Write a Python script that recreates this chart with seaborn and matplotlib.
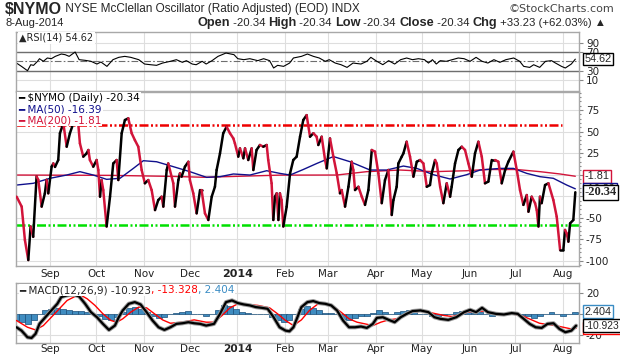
import pandas as pd
import matplotlib
matplotlib.use('Agg')
import matplotlib.pyplot as plt
import matplotlib.transforms as mtrans
from matplotlib.ticker import MultipleLocator
import seaborn as sns

# day offsets are counted from 1 Sep 2013
base = pd.Timestamp('2013-09-01')

nymo_day = [-21.7, -18.4, -16.3, -14.1, -12.6, -10.9, -8.7, -7.6, -5.4, -3.3, -2.2, -1.1, 1.1, 2.2, 3.3, 5.4,
            6.5, 8.7, 10.9, 13.0, 15.2, 17.4, 18.4, 19.5, 21.7, 23.9, 25.0, 26.0, 28.2, 30.4, 31.5, 32.6,
            33.6, 34.7, 36.9, 39.1, 41.2, 43.4, 44.5, 46.7, 48.8, 51.0, 53.2, 55.3, 57.5, 59.7, 61.8, 64.0,
            66.2, 68.4, 70.5, 72.7, 73.8, 76.0, 77.0, 78.1, 80.3, 81.4, 83.6, 84.6, 85.7, 87.9, 90.1, 91.1,
            93.3, 95.5, 97.7, 98.7, 100.9, 103.1, 105.3, 107.4, 108.5, 110.7, 112.8, 115.0, 117.2, 119.4,
            120.4, 122.6, 123.7, 125.9, 127.0, 129.1, 131.3, 132.4, 134.5, 136.7, 138.9, 141.1, 142.1, 144.3,
            145.4, 146.5, 147.6, 148.7, 149.7, 150.8, 151.9, 154.1, 156.3, 158.4, 160.6, 162.8, 164.9, 167.1,
            169.3, 171.5, 173.6, 174.7,
            176.9, 179.1, 180.2, 182.3, 184.5, 186.7, 188.8, 189.9, 192.1, 194.3, 196.4, 197.5, 198.6, 200.8,
            203.0, 205.1, 207.3, 209.5, 211.6, 213.8, 216.0, 218.1, 220.3, 222.5, 223.6, 225.7, 226.8, 229.0,
            230.1, 232.2, 234.4, 236.6, 238.8, 240.9, 243.1, 245.3, 247.4, 248.5, 250.7, 251.8, 254.0, 256.1,
            258.3, 260.5, 261.5, 263.7, 265.9, 268.1, 270.2, 272.4, 274.6, 276.7, 278.9, 281.1, 283.2, 285.4,
            287.6, 289.8, 291.9, 294.1, 296.3, 298.4, 301.7, 303.9, 306.0, 308.2, 310.4, 311.5, 313.6, 315.8,
            316.9, 318.0, 319.0, 320.1, 322.3, 324.5, 327.7, 329.9, 332.1, 334.2, 335.3, 336.4, 337.5, 338.6,
            340.7, 342.0]
nymo_val = [-25.5, -37, -75.7, -98.9, -60, -72, -2, -6, -37, -21.6, -6, -21.6, 9.3, 13, 9, 17,
            48, 59.5, 32.4, 48, 59.5, 61.4, 59.5, 36.3, 20.9, 24.7, 28.6, 17, 9.3, 17, 5.4, -25.5,
            -6.2, -17.8, -60, -25.5, 13, 17, -6.2, 48, 63.3, 65.3, 48, 40, 32.4, 5.4, -10, -6.2,
            -17.8, -41, -29.4, -25.5, -37, 5.4, 13, 5.4, -10, -37, -6.2, 1.5, -2.3, 9.3, 15, -6.2,
            -21.6, -44.8, -17.8, -17.8, -44.8, -52.5, -25.5, -14, 5.4, 24.7, 48, 55.6, 48, 42,
            36.3, 20.9, 30.5, 19, 30.5, 17, 30.5, 5.4, 28.6, 34.4, 32.4, 34.4, 17, -10,
            -52.5, -25.5, -21.6, -52.5, -21.6, -29.4, -60, -37, 1.5, 17, 20.9, 44, 63.3, 69,
            44, 48, 44, 34.4,
            44, 17, 7.3, 42, 20.9, 1.5, -21.6, -17.8, -37, -14, 15, 5.4, -17.8, -14,
            -25.5, -35, -17.8, 28.6, 26.7, 1.5, -33, -6.2, 5.4, -46.7, -29.4, -14, 13, 20.9,
            24.7, 38.2, 20.9, -2.3, 15, 17, 13, -14, -12, 1.5, 17, 13, -14, -33,
            -10, -25.5, -14, 13, 28.6, 32.4, 28.6, 13, -2.3, 24.7, 38.2, 20.9, -10, -8,
            17, 17, 15, -10, 5.4, 15, 26.7, 5.4, -17.8, -35, -23.6, -42.9, -25.5, -33,
            -41, -60, -25.5, -33, -12, -10, -29.4, -48.7, -87.3, -87.3, -64, -68, -77.6, -56.4,
            -52.5, -20.34]

ma50_day = [-21.7, -10.9, 0, 10.9, 19.5, 28.2, 36.9, 45.6, 54.3, 60.8, 69.4, 80.3, 91.1, 102.0, 110.7,
            119.4, 130.2, 141.1, 149.7, 156.3, 164.9, 173.7, 184.5, 195.4, 208.4, 219.2, 230.1, 238.8,
            249.6, 260.5, 271.3, 280.0, 293.0, 301.7, 310.4, 319.0, 327.7, 336.4, 342.0]
ma50_val = [-12, -10, -4.2, -0.4, 3.5, -0.4, -5.4, -4.2, 7.3, 16.2, 15, 9.3, 3.5, -3.1, -2.3,
            0.8, -0.4, 4.6, 1.5, -0.4, 6, 13, 21, 15, 5.4, 5.4, 10, 7.3,
            0, -5, 0, 5.4, 7.3, 7.3, 1.5, -2.3, -4.2, -12, -16.39]

ma200_day = [-21.7, 40, 80, 100, 120, 150, 186.7, 206.2, 227.9, 249.6, 271.3, 284.3, 303.9, 319, 332.1, 342]
ma200_val = [-0.4, -0.8, -2, -3, -2, -0.5, -0.4, 3.5, 5.4, 3.5, 4.6, 6, 6, 3.5, 0.8, -1.81]

rsi_day = [-21.8, -18.5, -14.6, -12.5, -10.7, -8.1, -6.8, -4.3, -1.7, 0.9,
           3.5, 7.4, 9.9, 12.5, 16.4, 19.0, 22.9, 26.7, 30.6, 33.2,
           37.1, 41.0, 44.8, 48.7, 52.6, 57.8, 61.6, 65.5, 69.4, 73.3,
           78.4, 82.3, 86.2, 88.8, 92.6, 95.2, 99.1, 101.7, 105.5, 109.4,
           114.6, 119.8, 122.3, 126.2, 130.1, 135.3, 139.1, 143.0, 145.6, 148.2,
           152.1, 156.0, 158.5, 163.7, 167.6, 171.5, 175.3, 179.2, 181.8, 185.7,
           189.5, 193.4, 197.3, 202.5, 206.3, 208.9, 212.8, 216.7, 220.5, 224.4,
           228.3, 232.2, 236.0, 239.9, 243.8, 246.4, 249.0, 251.5, 254.1, 258.0,
           261.9, 265.8, 269.6, 273.5, 277.4, 281.3, 285.1, 289.0, 292.9, 296.8,
           301.9, 305.8, 308.4, 312.3, 314.9, 318.8, 322.6, 326.5, 329.1, 333.0,
           335.5, 339.4, 342.0]
rsi_val = [46.3, 39.1, 29.9, 42.7, 41.3, 50, 55.6, 50, 57.1, 55.6,
           60.6, 65.6, 64.2, 60.6, 69.9, 53.5, 52.1, 50, 44.2, 48.5,
           39.2, 53.5, 58.5, 60.6, 58.5, 53.5, 44.2, 42.7, 41.4, 46.3,
           50, 53.5, 47.8, 51.4, 44.2, 42.7, 50, 44.2, 51.4, 60.6,
           67.7, 64.2, 55.6, 53.5, 55.6, 51.4, 55.6, 51.4, 35.7, 41.4,
           39.2, 46.3, 57.1, 60.6, 65.6, 60.6, 57.1, 50, 53.5, 46.3,
           42.7, 37, 46.3, 44.2, 50, 58.5, 50, 42.8, 51.4, 44.2,
           53.5, 57.1, 53.5, 55.6, 53.5, 46.3, 53.5, 44.2, 51.4, 50,
           53.5, 57.1, 55.6, 50, 58.5, 50, 46.3, 53.5, 47.8, 53.5,
           57.1, 50, 39.2, 37, 42.7, 37, 50, 51.4, 46.3, 39.2,
           35.7, 44.2, 54.62]

macd_day = [-21.8, -18.5, -14.6, -12.0, -9.4, -6.8, -3.0, 0.9, 4.8, 7.4,
            11.2, 15.1, 19.0, 22.9, 26.7, 30.6, 34.5, 38.4, 42.3, 44.8,
            47.4, 51.3, 55.2, 59.0, 62.9, 66.8, 70.7, 74.5, 78.4, 82.3,
            86.2, 90.1, 93.9, 97.8, 101.7, 106.8, 110.7, 114.6, 118.5, 122.3,
            126.2, 130.1, 134.0, 137.9, 141.7, 145.6, 149.5, 153.4, 155.9, 158.5,
            161.1, 163.7, 167.6, 171.4, 175.3, 179.2, 183.1, 186.9, 190.8, 194.7,
            198.6, 202.5, 206.3, 210.2, 212.8, 216.7, 220.5, 224.4, 228.3, 232.2,
            236.0, 241.2, 246.4, 250.3, 254.1, 259.3, 264.5, 269.6, 273.5, 277.4,
            281.3, 285.1, 290.3, 295.5, 300.6, 304.5, 308.4, 312.3, 316.2, 320.1,
            323.9, 327.8, 331.7, 335.5, 339.4, 342.5]
macd_val = [-12.4, -15.6, -21.9, -22.5, -18.7, -9.2, -2.9, 3.5, 9.8, 16.2,
            17.8, 18.7, 16.8, 9.8, 1.9, -2.9, -9.2, -14.9, -10.8, -2.9,
            3.5, 9.8, 11.4, 9.2, 1.9, -6.0, -12.4, -14.9, -12.4, -9.2,
            -8.6, -7.6, -8.6, -9.2, -10.8, -9.2, 0.3, 11.4, 13.0, 10.5,
            9.2, 8.3, 6.7, 6.0, 5.1, -2.9, -12.4, -15.6, -16.2, -12.4,
            -2.9, 6.7, 11.4, 12.4, 10.5, 9.8, 8.3, 3.5, -6.0, -12.4,
            -12.4, -11.7, -13.0, -9.2, -3.5, -2.9, -5.4, -7.6, -2.9, 0.3,
            2.9, 3.5, 1.9, -2.9, -4.4, -5.4, -2.9, 1.9, 4.1, 1.9,
            6.0, 1.9, 0.3, -0.3, 1.0, 0.3, -4.4, -9.2, -12.4, -13.0,
            -9.2, -8.6, -14.0, -17.1, -15.6, -10.923]

signal_day = [-21.8, -14.6, -9.4, -4.3, 0.9, 6.1, 11.2, 16.4, 20.3, 24.2,
              29.3, 34.5, 39.7, 43.5, 47.4, 52.6, 57.8, 62.9, 68.1, 73.3,
              78.4, 86.2, 93.9, 101.7, 106.8, 112.0, 117.2, 122.3, 127.5, 135.3,
              143.0, 148.2, 153.4, 158.5, 163.7, 168.9, 174.0, 179.2, 184.4, 189.5,
              194.7, 199.9, 205.1, 210.2, 215.4, 220.5, 225.7, 230.9, 236.0, 241.2,
              246.4, 251.5, 256.7, 261.9, 267.1, 272.2, 277.4, 282.6, 287.7, 292.9,
              298.0, 303.2, 308.4, 313.6, 318.7, 323.9, 329.1, 334.2, 339.4, 342.5]
signal_val = [-6, -12.4, -14.9, -10.8, -2.9, 5.1, 13, 16.8, 17.8, 14.6,
              8.3, 0.3, -6, -7.6, -4.4, 1.9, 6.7, 6, 0.3, -5.4,
              -8.6, -7.6, -5.4, -7.6, -7.6, -1.3, 6, 9.8, 9.2, 8.3,
              6, 0.3, -6, -10.8, -5.4, 3.5, 9.2, 9.8, 7.3, 1.9,
              -4.4, -7.6, -9.2, -10.8, -7.6, -5.4, -4.4, -1.3, 1.9, 2.9,
              1.9, 0.3, -1.3, -2.2, -0.3, 1.9, 2.9, 2.9, 1.9, 0.3,
              0.3, -0.3, -2.2, -5.4, -8.6, -9.8, -10.8, -12.4, -14, -13.328]

hist_day = [-21.8, -18.5, -14.6, -10.7, -6.8, -3.0, 0.9, 4.8, 8.7, 12.5,
            16.4, 20.3, 24.2, 28.0, 31.9, 35.8, 39.7, 43.5, 47.4, 51.3,
            55.2, 59.0, 62.9, 66.8, 70.7, 74.5, 78.4, 82.3, 86.2, 90.1,
            93.9, 97.8, 101.7, 105.6, 109.4, 113.3, 117.2, 121.1, 124.9, 128.8,
            132.7, 136.6, 140.4, 144.3, 148.2, 152.1, 155.9, 159.8, 163.7, 167.6,
            171.4, 175.3, 179.2, 183.1, 186.9, 190.8, 194.7, 198.6, 202.5, 206.3,
            210.2, 214.1, 218.0, 221.8, 225.7, 229.6, 233.5, 237.3, 241.2, 245.1,
            249.0, 252.8, 256.7, 260.6, 264.5, 268.3, 272.2, 276.1, 280.0, 283.8,
            287.7, 291.6, 295.5, 299.4, 303.2, 307.1, 311.0, 314.9, 318.7, 322.6,
            326.5, 330.4, 334.2, 338.1, 342.0]
hist_val = [-6.0, -7.6, -9.2, -6.0, 0.3, 4.1, 5.1, 6.0, 5.1, 4.1,
            2.9, 2.9, 1.9, 0.3, -2.2, -4.4, -5.4, -2.9, 1.9, 6.0,
            6.7, 5.1, 1.9, -2.2, -3.5, -2.9, 0.3, 1.0, 1.9, 2.9,
            0.3, -0.3, -1.3, 0.3, 3.5, 8.3, 7.3, 5.1, 1.9, 1.0,
            0.3, 0.3, -0.3, -2.9, -6.0, -7.6, -5.4, 0.3, 5.1, 7.3,
            6.0, 3.5, 1.0, 1.0, -0.3, -4.4, -5.4, -3.5, -2.2, -1.3,
            1.0, 3.5, 1.9, 0.3, 1.6, 2.9, 3.5, 1.9, 0.3, -0.3,
            -2.2, -1.6, -1.0, 0.3, 1.6, 2.9, 2.9, 1.0, 1.6, -0.3,
            -2.2, -1.0, 0.3, 1.0, 0.3, -1.0, -2.2, -3.5, -2.2, -0.3,
            1.6, -0.3, -2.2, -0.3, 2.404]

month_day = [0, 30, 61, 91, 122, 153, 181, 212, 242, 273, 303, 334]
month_lbl = ['Sep', 'Oct', 'Nov', 'Dec', '2014', 'Feb', 'Mar', 'Apr', 'May', 'Jun', 'Jul', 'Aug']

main_ticks = [-100, -75, -50, -25, 0, 25, 50, 75]
main_tick_lbl = ['-100', '-75', '-50', '-25', '', '25', '50', '75']
macd_ticks = [-20, 0, 20]
macd_tick_lbl = ['-20', '', '20']


def to_dates(days):
    return base + pd.to_timedelta(days, unit='D')


sns.set_style('white')
plt.rcParams['font.family'] = ['DejaVu Sans']

BLACK = '#000000'
RED = '#d2143a'
NAVY = '#10108c'
HIST = '#3f8cc0'
GRID = '#dedede'
FRAME = '#a8a8a8'

fig = plt.figure(figsize=(6.2, 3.6), dpi=100)
L, W = 16 / 620, 563 / 620
ax_rsi = fig.add_axes([L, 1 - 91 / 360, W, 59 / 360])
ax = fig.add_axes([L, 1 - 266 / 360, W, 174 / 360])
ax_macd = fig.add_axes([L, 1 - 343 / 360, W, 60 / 360])

months = to_dates(month_day)
for a in (ax_rsi, ax, ax_macd):
    a.set_xlim(to_dates([-22.1, 344.4]))
    a.set_xticks(months)
    a.set_xticklabels([])
    for s in a.spines.values():
        s.set_color(FRAME)
        s.set_linewidth(1)
    a.yaxis.tick_right()
    a.tick_params(axis='y', which='both', right=True, left=False, length=3, width=0.8,
                  color='#888888', labelsize=7.5, pad=2, labelcolor='#222222')
    a.tick_params(axis='y', which='minor', length=1.5)
    a.tick_params(axis='x', length=0, labelsize=7.5, pad=2.5, labelcolor='#222222')
    a.grid(True, axis='x', color=GRID, lw=0.8)
    a.set_axisbelow(True)

for a, size in ((ax, 8), (ax_macd, 7.6)):
    a.set_xticklabels(month_lbl)
    for t in a.get_xticklabels():
        if t.get_text() == '2014':
            t.set_fontweight('bold')
            t.set_fontsize(size)
ax_macd.tick_params(axis='x', pad=0.5)

rtrans = lambda a: mtrans.blended_transform_factory(a.transAxes, a.transData)


def value_box(a, y, s, ec, size=7.8, **kw):
    a.text(1.01, y, s, transform=rtrans(a), ha='left', va='center', clip_on=False, zorder=10,
           fontsize=size, family=kw.pop('family', 'Liberation Sans'),
           bbox=dict(boxstyle='square,pad=0.12', fc='white', ec=ec, lw=1), **kw)


# ---- RSI panel
ax_rsi.set_ylim(-13.5, 112.7)
ax_rsi.set_yticks([10, 30, 70, 90])
ax_rsi.grid(True, axis='y', color=GRID, lw=0.8)
ax_rsi.axhline(70, color='#6e6e6e', lw=1)
ax_rsi.axhline(30, color='#6e6e6e', lw=1)
ax_rsi.axhline(50, color='#6e6e6e', lw=0.8, ls=(0, (6, 2, 1.5, 2)))
sns.lineplot(x=to_dates(rsi_day), y=rsi_val, ax=ax_rsi, color=BLACK, lw=0.8,
             estimator=None, sort=False)
ax_rsi.text(0.006, 0.9, '\u25b2RSI(14) 54.62', transform=ax_rsi.transAxes, fontsize=7,
            va='center', ha='left', bbox=dict(fc='white', ec='none', pad=1), zorder=9)
value_box(ax_rsi, 54.62, '54.62', BLACK)

# ---- main panel
ax.set_ylim(-105.8, 95.8)
ax.set_yticks(main_ticks)
ax.set_yticklabels(main_tick_lbl)
ax.yaxis.set_minor_locator(MultipleLocator(5))
ax.grid(True, axis='y', color=GRID, lw=0.8)
ax.axhline(58, xmax=0.97, color='#ee0000', lw=1.8, ls=(0, (3.6, 1, 0.8, 1, 0.8, 1)), zorder=2)
ax.axhline(-58, color='#00e000', lw=1.8, ls=(0, (3.6, 1, 0.8, 1, 0.8, 1)), zorder=2)
sns.lineplot(x=to_dates(ma200_day), y=ma200_val, ax=ax, color=RED, lw=1, estimator=None, sort=False)
sns.lineplot(x=to_dates(ma50_day), y=ma50_val, ax=ax, color=NAVY, lw=1, estimator=None, sort=False)
nd = to_dates(nymo_day)
for i in range(len(nymo_val) - 1):
    c = BLACK if nymo_val[i + 1] >= nymo_val[i] else RED
    ax.plot(nd[i:i + 2], nymo_val[i:i + 2], color=c, lw=1.8, solid_capstyle='round', zorder=4)

leg = [('\u2501 $NYMO (Daily) -20.34', BLACK, 0.965),
       ('\u2501 MA(50) -16.39', NAVY, 0.902),
       ('\u2501 MA(200) -1.81', RED, 0.839)]
for s, c, y in leg:
    ax.text(0.004, y, s.replace('$', r'\$'), transform=ax.transAxes, color=c, fontsize=7.5,
            va='center', ha='left', bbox=dict(fc='white', ec='none', pad=0.6), zorder=9)
value_box(ax, -1.81, '-1.81', RED)
value_box(ax, -16.39, '-16.39', NAVY)
value_box(ax, -20.34, '-20.34', BLACK, size=9, fontweight='bold', family='Liberation Serif')

# ---- MACD panel
ax_macd.set_ylim(-27.3, 29.5)
ax_macd.set_yticks(macd_ticks)
ax_macd.set_yticklabels(macd_tick_lbl)
ax_macd.grid(True, axis='y', color=GRID, lw=0.8)
ax_macd.bar(to_dates(hist_day), hist_val, width=3.9, color=HIST, edgecolor='#1a4f7a', lw=0.5, zorder=2)
sns.lineplot(x=to_dates(signal_day), y=signal_val, ax=ax_macd, color='#ff0000', lw=1,
             estimator=None, sort=False, zorder=3)
md = to_dates(macd_day)
sns.lineplot(x=md, y=macd_val, ax=ax_macd, color='#9a9a9a', lw=3, estimator=None, sort=False, zorder=4)
sns.lineplot(x=md, y=macd_val, ax=ax_macd, color=BLACK, lw=1.6, estimator=None, sort=False, zorder=5)
t1 = ax_macd.text(0.006, 0.88, '\u2501 MACD(12,26,9) -10.923', transform=ax_macd.transAxes, fontsize=7.5,
                  va='center', ha='left', bbox=dict(fc='white', ec='none', pad=0.6), zorder=9)
t2 = ax_macd.annotate(', -13.328', xy=(1, 0.5), xycoords=t1, va='center', ha='left', fontsize=7.5,
                      color='#ff0000', bbox=dict(fc='white', ec='none', pad=0.6), zorder=9)
ax_macd.annotate(', 2.404', xy=(1, 0.5), xycoords=t2, va='center', ha='left', fontsize=7.5,
                 color='#3a8cc4', bbox=dict(fc='white', ec='none', pad=0.6), zorder=9)
value_box(ax_macd, 2.404, '2.404', '#3a8cc4')
value_box(ax_macd, -13.328, '-13.328', '#ff0000', size=7.4)
value_box(ax_macd, -10.923, '-10.923', BLACK, size=7.4)

# no axis titles on any panel
for a in (ax_rsi, ax, ax_macd):
    a.xaxis.label.set_visible(False)
    a.yaxis.label.set_visible(False)

# ---- header
h1 = fig.text(5 / 620, 1 - 9 / 360, r'\$NYMO', fontsize=11.5, fontweight='bold', va='center',
              family='Liberation Sans')
ax_rsi.annotate(' NYSE McClellan Oscillator (Ratio Adjusted) (EOD) INDX', xy=(1, 0.5), xycoords=h1,
                va='center', ha='left', fontsize=8.5, family='Liberation Sans', annotation_clip=False)
fig.text(614 / 620, 1 - 9 / 360, '\u00a9StockCharts.com', fontsize=8, ha='right', va='center',
         color='#444444', family='DejaVu Sans')
fig.text(5 / 620, 1 - 23 / 360, '8-Aug-2014', fontsize=8, va='center', family='Liberation Sans')

parts = [('Open', True), (' -20.34 ', False), ('High', True), (' -20.34 ', False), ('Low', True),
         (' -20.34 ', False), ('Close', True), (' -20.34 ', False), ('Chg', True),
         (' +33.23 (+62.03%) \u25b2', False)]
prev = fig.text(197 / 620, 1 - 23 / 360, '', fontsize=8, va='center')
for s, b in parts:
    prev = ax_rsi.annotate(s, xy=(1, 0.5), xycoords=prev, va='center', ha='left',
                           fontsize=9.2 if b else 8.2, fontweight='bold' if b else 'normal',
                           family='Liberation Sans', annotation_clip=False)

fig.savefig('out.png', dpi=100)
